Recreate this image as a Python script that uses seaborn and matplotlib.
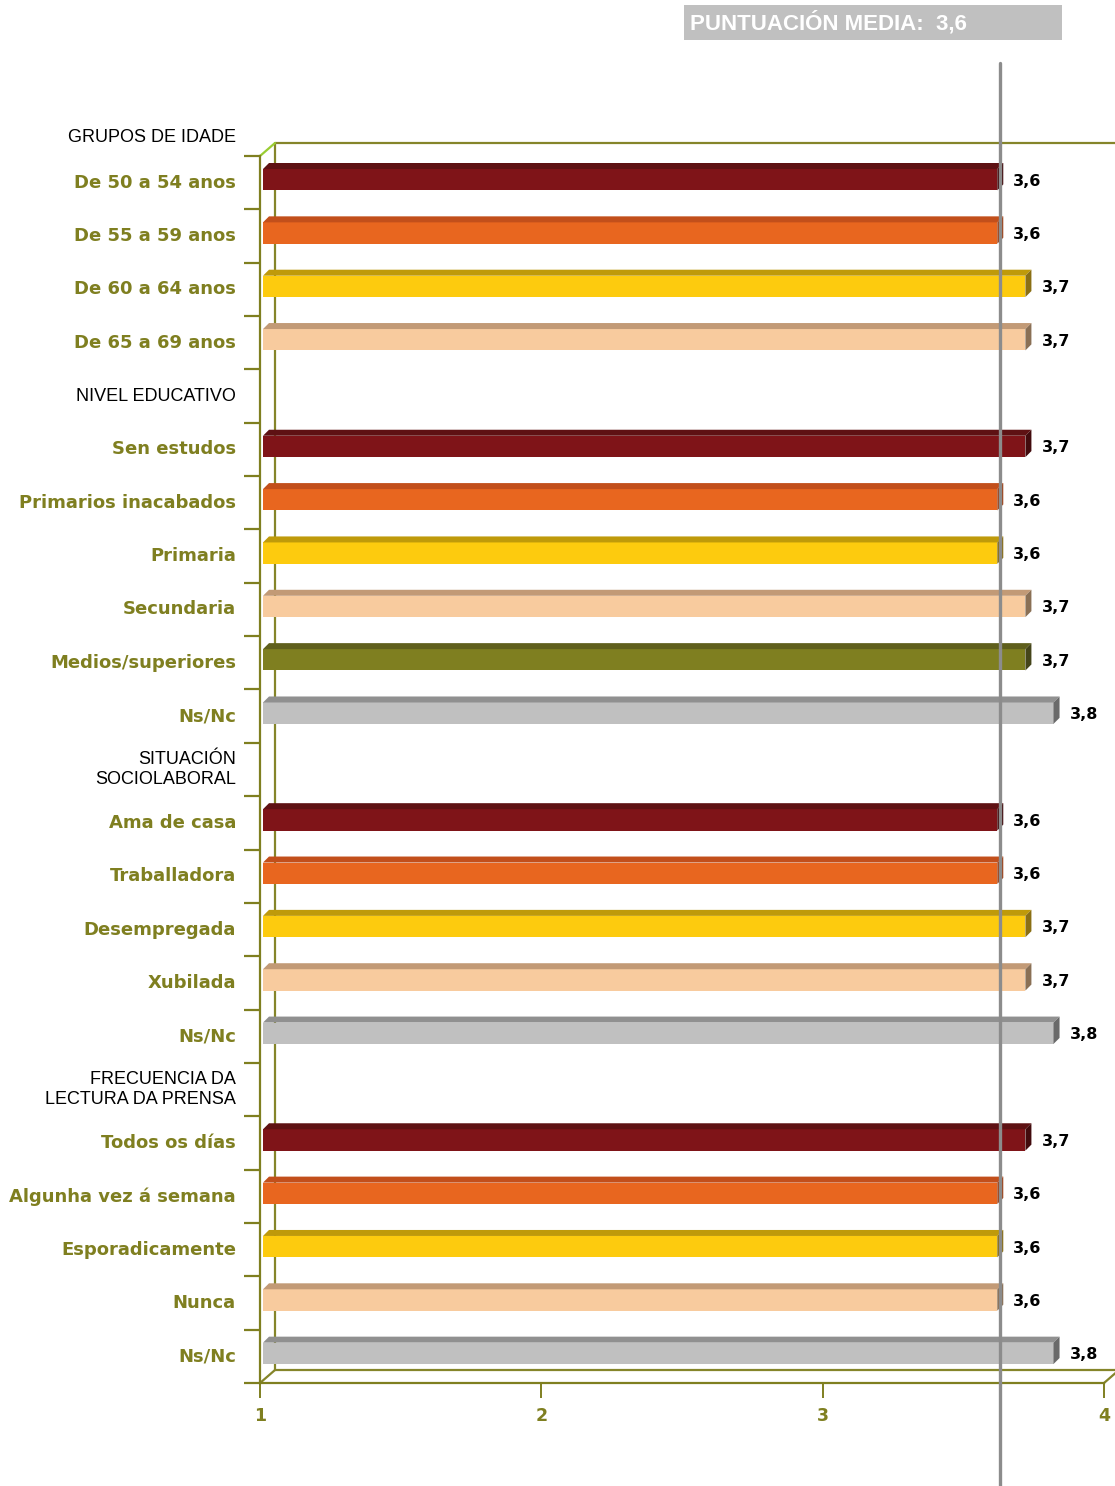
import matplotlib
matplotlib.use("Agg")
import matplotlib.pyplot as plt
import seaborn as sns
import pandas as pd
import numpy as np
from matplotlib.patches import Polygon, Rectangle
import matplotlib.transforms as mtransforms

sns.set_style("white")
plt.rcParams['font.family'] = ['DejaVu Sans']

# rows from top to bottom; rows with no value are group headings
filas = [
    "GRUPOS DE IDADE",
    "De 50 a 54 anos", "De 55 a 59 anos", "De 60 a 64 anos", "De 65 a 69 anos",
    "NIVEL EDUCATIVO",
    "Sen estudos", "Primarios inacabados", "Primaria", "Secundaria",
    "Medios/superiores", "Ns/Nc",
    "SITUACIÓN\nSOCIOLABORAL",
    "Ama de casa", "Traballadora", "Desempregada", "Xubilada", "Ns/Nc",
    "FRECUENCIA DA\nLECTURA DA PRENSA",
    "Todos os días", "Algunha vez á semana", "Esporadicamente", "Nunca", "Ns/Nc",
]
valores = [
    None, 3.61, 3.61, 3.71, 3.71,
    None, 3.71, 3.61, 3.61, 3.71, 3.71, 3.81,
    None, 3.61, 3.61, 3.71, 3.71, 3.81,
    None, 3.71, 3.61, 3.61, 3.61, 3.81,
]
tons = [
    None, "granate", "laranxa", "amarelo", "salmon",
    None, "granate", "laranxa", "amarelo", "salmon", "oliva", "gris",
    None, "granate", "laranxa", "amarelo", "salmon", "gris",
    None, "granate", "laranxa", "amarelo", "salmon", "gris",
]
media = 3.63
xticks = [1, 2, 3, 4]

# front / top / side colours of each bar tone
cor_frente = {"granate": "#7F1418", "laranxa": "#E8661F", "amarelo": "#FDCB0E",
              "salmon": "#F8CB9E", "oliva": "#7F7F20", "gris": "#C0C0C0"}
cor_arriba = {"granate": "#5E1113", "laranxa": "#C24F1B", "amarelo": "#BF9A0A",
              "salmon": "#C29A76", "oliva": "#5F5F1C", "gris": "#909090"}
cor_lado = {"granate": "#420B0D", "laranxa": "#A04218", "amarelo": "#8A6F14",
            "salmon": "#8A7055", "oliva": "#45451A", "gris": "#6A6A6A"}

OLIVA = "#7F7F20"
LIÑA = "#85852A"

W, H = 1115, 1486
fig = plt.figure(figsize=(W / 100, H / 100), dpi=100)
ax_l, ax_r, ax_t, ax_b = 260, 1104, 156, 1383
ax = fig.add_axes([ax_l / W, 1 - ax_b / H, (ax_r - ax_l) / W, (ax_b - ax_t) / H])

n = len(filas)
claves = [f"f{i}" for i in range(n)]
df = pd.DataFrame({"fila": claves, "valor": valores, "ton": tons}).dropna()
paleta = {k: cor_frente[t] for k, t in zip(df["fila"], df["ton"])}

sns.barplot(data=df, x="valor", y="fila", hue="fila", order=claves,
            palette=paleta, width=0.4, saturation=1, errorbar=None,
            legend=False, orient="h", ax=ax, zorder=3)

ax.set_xlim(xticks[0], xticks[-1])
ax.set_ylim(n - 0.5, 0.5)

# pixel -> data conversion for the pseudo 3D effect
px_x = (ax_r - ax_l) / (xticks[-1] - xticks[0])
px_y = (ax_b - ax_t) / (n - 1)
sx, sy = 3 / px_x, -3 / px_y      # bar sits a bit inside the box
tx, ty = 6 / px_x, -6 / px_y      # bar depth
bx, by = 15 / px_x, -13 / px_y    # box depth

for p in ax.patches:
    w = p.get_width()
    if not np.isfinite(w) or w == 0:
        continue
    i = int(round(p.get_y() + p.get_height() / 2))
    ton = tons[i]
    p.set_x(xticks[0] + sx)
    p.set_width(w - xticks[0])
    p.set_y(p.get_y() + sy)
    p.set_edgecolor("none")
    x0, x1 = p.get_x(), p.get_x() + p.get_width()
    yt, yb = p.get_y(), p.get_y() + p.get_height()
    ax.add_patch(Polygon([(x0, yt), (x1, yt), (x1 + tx, yt + ty), (x0 + tx, yt + ty)],
                         closed=True, facecolor=cor_arriba[ton], edgecolor="none",
                         zorder=3))
    ax.add_patch(Polygon([(x1, yt), (x1 + tx, yt + ty), (x1 + tx, yb + ty), (x1, yb)],
                         closed=True, facecolor=cor_lado[ton], edgecolor="none",
                         zorder=3))
    ax.text(x1 + tx + 10 / px_x, i - 0.03, f"{w:.1f}".replace(".", ","),
            ha="left", va="center", fontsize=11.5, fontweight="bold",
            color="black", zorder=4)

# back wall and floor of the box
y_top, y_bot = 0.5, n - 0.5
kw = dict(color=LIÑA, lw=1.6, clip_on=False, zorder=1)
ax.plot([xticks[0] + bx, xticks[0] + bx], [y_top + by, y_bot + by], **kw)
ax.plot([xticks[0] + bx, xticks[-1] + bx + 0.1], [y_top + by, y_top + by], **kw)
ax.plot([xticks[0] + bx, xticks[-1] + bx + 0.1], [y_bot + by, y_bot + by], **kw)
ax.plot([xticks[0], xticks[0] + bx], [y_bot, y_bot + by], **kw)
ax.plot([xticks[-1], xticks[-1] + bx], [y_bot, y_bot + by], **kw)
ax.plot([xticks[0], xticks[0] + bx], [y_top, y_top + by], color="#9ACD32",
        lw=1.6, clip_on=False, zorder=1)

# front axes
for s in ["top", "right"]:
    ax.spines[s].set_visible(False)
for s in ["left", "bottom"]:
    ax.spines[s].set_color(OLIVA)
    ax.spines[s].set_linewidth(1.6)
ax.set_yticks(np.arange(0.5, n, 1))
ax.set_yticklabels([])
ax.set_ylabel("")
ax.set_xlabel("")
ax.tick_params(axis="y", left=True, length=11.5, width=1.6, color=OLIVA,
               direction="out")
ax.set_xticks(xticks)
ax.set_xticklabels([str(t) for t in xticks])
ax.tick_params(axis="x", bottom=True, length=11, width=1.4, color=OLIVA,
               direction="out", pad=6, labelsize=12.5, labelcolor=OLIVA)
for lab in ax.get_xticklabels():
    lab.set_fontweight("bold")

# row labels
x_lab = xticks[0] - 24 / px_x
for i, (txt, v) in enumerate(zip(filas, valores)):
    if v is None:
        y = i if i > 0 else y_top - 19 / px_y
        ax.text(x_lab, y, txt, ha="right", va="center", fontsize=13,
                family=["Liberation Sans", "DejaVu Sans"], color="black",
                linespacing=1.25, clip_on=False)
    else:
        ax.text(x_lab, i, txt, ha="right", va="center", fontsize=13,
                fontweight="bold", color=OLIVA, clip_on=False)

# mean line across the whole chart
tr = mtransforms.blended_transform_factory(ax.transData, fig.transFigure)
ax.plot([media, media], [0, 1 - 63 / H], transform=tr, color="#8C8C8C",
        lw=2.4, clip_on=False, zorder=5)

# mean score box
fig.patches.append(Rectangle((684 / W, 1 - 40 / H), (1062 - 684) / W, 35 / H,
                             transform=fig.transFigure, facecolor="#C0C0C0",
                             edgecolor="none"))
fig.text(690 / W, 1 - 23 / H, "PUNTUACIÓN MEDIA:  " + f"{media:.1f}".replace(".", ","),
         ha="left", va="center", fontsize=16, fontweight="bold", color="white",
         family=["Liberation Sans", "DejaVu Sans"])

fig.savefig("out.png", dpi=100)
